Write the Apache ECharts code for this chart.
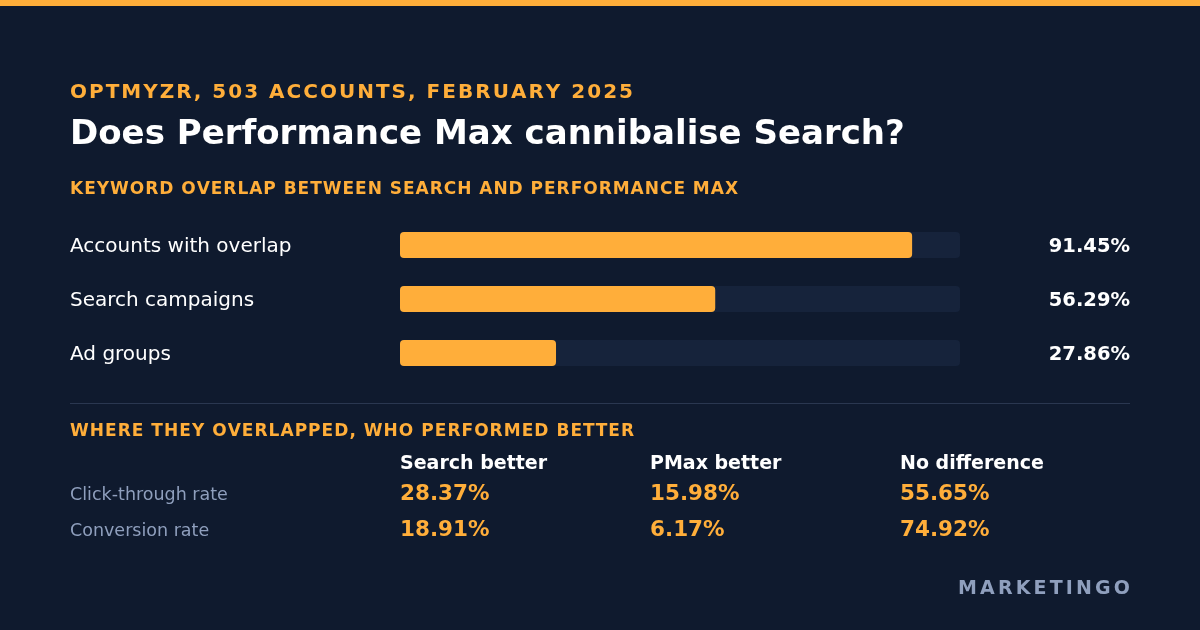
<!DOCTYPE html><html><head><meta charset="utf-8">
<script src="https://cdn.jsdelivr.net/npm/echarts@6/dist/echarts.min.js"></script>
<style>html,body{margin:0;padding:0;background:#0f1a2e}#c{width:1200px;height:630px}</style></head>
<body><div id="c"></div><script>
const categories=['Accounts with overlap','Search campaigns','Ad groups'];
const overlapValues=[91.45,56.29,27.86];
const tableColumns=['Search better','PMax better','No difference'];
const tableRows=['Click-through rate','Conversion rate'];
const ctrValues=['28.37%','15.98%','55.65%'];
const cvrValues=['18.91%','6.17%','74.92%'];
const tableValues=[ctrValues,cvrValues];

const F='DejaVu Sans',OR='#ffae3a',BG='#0f1a2e';
const ctx=document.createElement('canvas').getContext('2d');
function spaced(s,x,y,font,fill,width){
  ctx.font=font;
  const ws=s.split('').map(ch=>ctx.measureText(ch).width);
  const nat=ws.reduce((a,b)=>a+b,0);
  const ls=(width-nat)/(s.length-1);
  const out=[];let cx=x;
  s.split('').forEach((ch,i)=>{out.push({type:'text',x:cx,y:y,style:{text:ch,fill:fill,font:font}});cx+=ws[i]+ls;});
  return out;
}
const chart=echarts.init(document.getElementById('c'));
let g=[
 {type:'rect',shape:{x:0,y:0,width:1200,height:6},style:{fill:OR}},
 {type:'text',left:70,top:118,style:{text:'Does Performance Max cannibalise Search?',fill:'#ffffff',font:'bold 34px "DejaVu Sans"'}},
 {type:'rect',shape:{x:70,y:403,width:1060,height:1},style:{fill:'#2a3750'}}
];
g=g.concat(spaced('OPTMYZR, 503 ACCOUNTS, FEBRUARY 2025',70,83,'bold 20px "DejaVu Sans"',OR,563));
g=g.concat(spaced('KEYWORD OVERLAP BETWEEN SEARCH AND PERFORMANCE MAX',70,181,'bold 17px "DejaVu Sans"',OR,668));
g=g.concat(spaced('WHERE THEY OVERLAPPED, WHO PERFORMED BETTER',70,423,'bold 17px "DejaVu Sans"',OR,564));
g=g.concat(spaced('MARKETINGO',958,580,'bold 19px "DejaVu Sans"','#8f9fbd',172));
tableColumns.forEach((c,i)=>g.push({type:'text',left:400+250*i,top:455,style:{text:c,fill:'#fff',font:'bold 19px "DejaVu Sans"'}}));
tableRows.forEach((r,j)=>{
 g.push({type:'text',left:70,top:486+36*j,style:{text:r,fill:'#8f9fbd',font:'17.5px "DejaVu Sans"'}});
 tableValues[j].forEach((v,i)=>g.push({type:'text',left:400+250*i,top:483+36*j,style:{text:v,fill:OR,font:'bold 21.5px "DejaVu Sans"'}}));
});
chart.setOption({
 backgroundColor:BG,animation:false,
 grid:{left:400,right:240,top:218,height:162},
 xAxis:{type:'value',min:0,max:100,show:false},
 yAxis:[{type:'category',data:categories,inverse:true,axisLine:{show:false},axisTick:{show:false},
   axisLabel:{margin:330,align:'left',formatter:v=>'{a|'+v+'}',
     rich:{a:{color:'#ffffff',fontFamily:F,fontSize:20,padding:[4,0,0,0]}}}},
  {type:'category',data:overlapValues.map(v=>v.toFixed(2)+'%'),inverse:true,position:'right',axisLine:{show:false},axisTick:{show:false},
   axisLabel:{margin:170,align:'right',formatter:v=>'{a|'+v+'}',
     rich:{a:{color:'#ffffff',fontFamily:F,fontSize:19.5,fontWeight:'bold',padding:[4,0,0,0]}}}}],
 series:[{type:'bar',data:overlapValues,barWidth:26,itemStyle:{color:OR,borderRadius:4},
  showBackground:true,backgroundStyle:{color:'#16233b',borderRadius:4}}],
 graphic:g
});
</script></body></html>
